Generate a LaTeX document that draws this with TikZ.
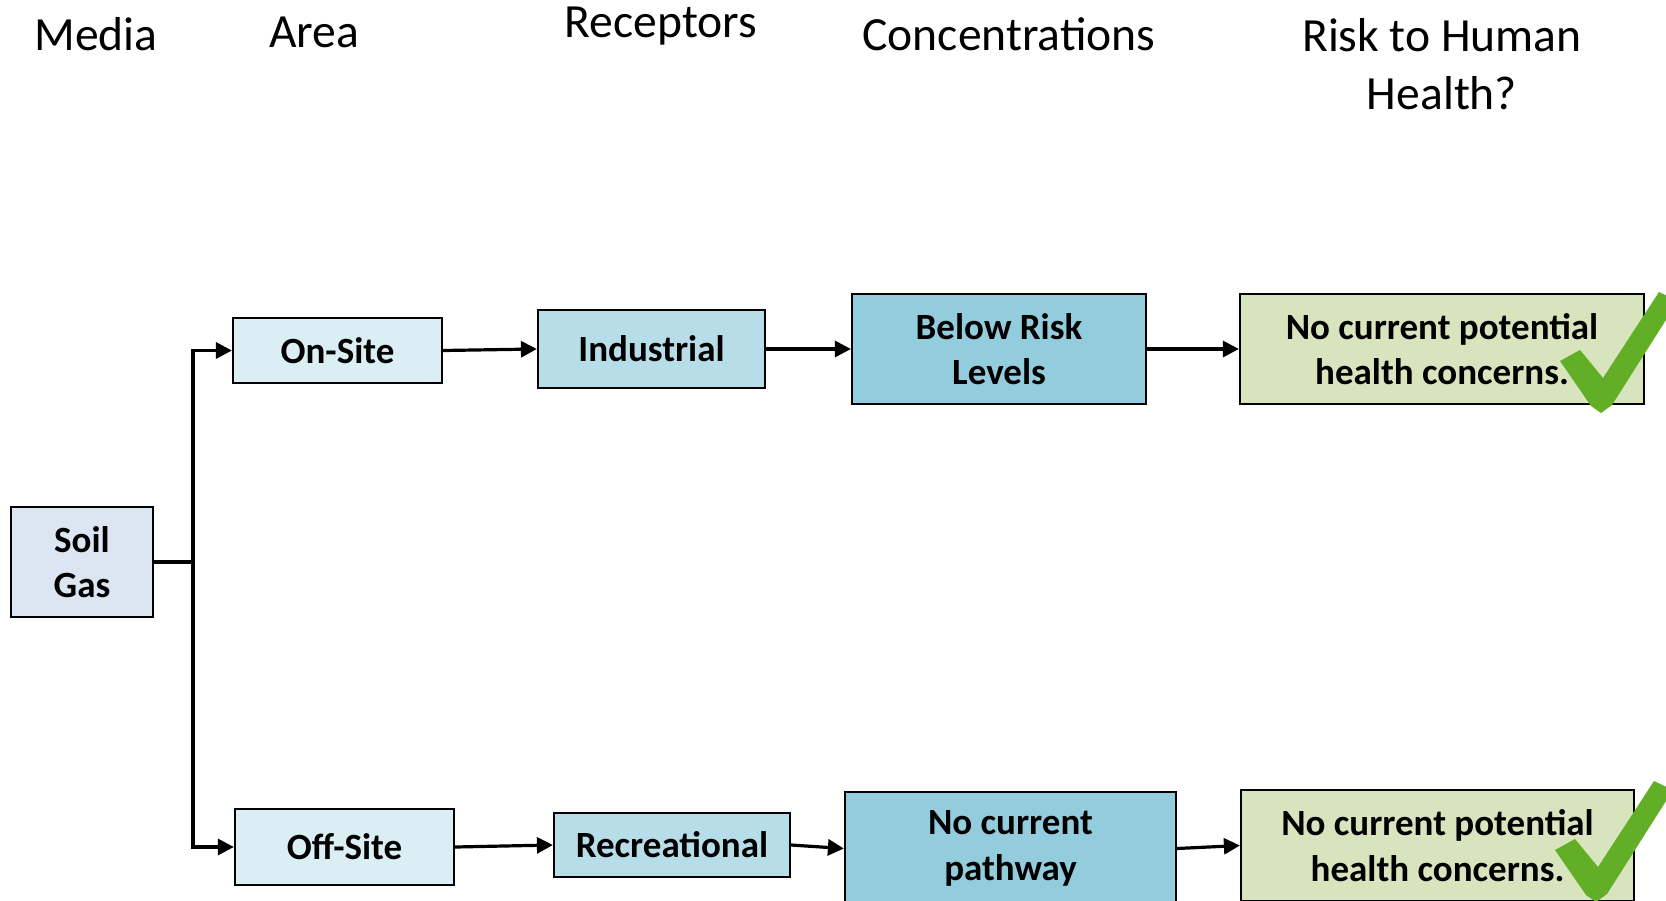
\documentclass[tikz,border=0pt]{standalone}
\usepackage{fontspec}
\setmainfont{Carlito}
\usetikzlibrary{arrows.meta}
\definecolor{soilfill}{HTML}{DCE6F2}
\definecolor{areafill}{HTML}{DAEEF3}
\definecolor{recfill}{HTML}{B7DEE8}
\definecolor{concfill}{HTML}{93CDDD}
\definecolor{riskfill}{HTML}{D7E4BD}
\definecolor{checkgreen}{RGB}{98,174,38}
\tikzset{
  box/.style={draw=black, line width=1.1pt, rectangle, align=center,
    font=\fontsize{18.5}{22.8}\selectfont\bfseries, inner sep=0pt},
  header/.style={align=center, font=\fontsize{23.8}{29}\selectfont, inner sep=0pt},
  conn/.style={line width=1.6pt, draw=black},
  arr/.style={conn, -{Triangle[length=8pt,width=8pt]}},
  chk/.pic={
    \fill[checkgreen] (1560,361) -- (1580,350) -- (1603,378) -- (1659,292)
      -- (1678,301) -- (1612,405) -- (1601,413) -- (1591,406) -- cycle;
  }
}
\begin{document}
\begin{tikzpicture}[x=0.5pt,y=-0.5pt]
\useasboundingbox (0,0) rectangle (1666,900);
% headers
\node[header] (hmedia) at (96,34) {Media};
\node[header] (harea) at (314,32) {Area};
\node[header] (hrec) at (661,26) {Receptors};
\node[header] (hconc) at (1009,34) {Concentrations};
\node[header] (hrisk) at (1442,64) {Risk to Human\\Health?};
% boxes
\node[box, fill=soilfill, minimum width=71pt, minimum height=55pt] (soil) at (82,562) {Soil\\Gas};
\node[box, fill=areafill, minimum width=104.5pt, minimum height=32.5pt] (onsite) at (337.5,350.5) {On-Site};
\node[box, fill=recfill, minimum width=113.5pt, minimum height=39pt] (industrial) at (651.5,349) {\raisebox{-2pt}{Industrial}};
\node[box, fill=concfill, minimum width=147pt, minimum height=55pt] (below) at (999,349) {Below Risk\\Levels};
\node[box, fill=riskfill, minimum width=202pt, minimum height=55pt] (riskA) at (1442,349) {No current potential\\health concerns.};
\node[box, fill=areafill, minimum width=109.5pt, minimum height=38pt] (offsite) at (344.5,847) {Off-Site};
\node[box, fill=recfill, minimum width=118pt, minimum height=32pt] (recreational) at (672,845) {Recreational};
\node[box, fill=concfill, minimum width=165.5pt, minimum height=56.5pt] (pathway) at (1010.5,848.5) {No current\\pathway};
\node[box, fill=riskfill, minimum width=196.5pt, minimum height=55.5pt] (riskB) at (1437.5,845.5) {No current potential\\health concerns.};
% check marks
\pic at (0,0) {chk};
\pic at (-5,489) {chk};
% connectors
\coordinate (trunk) at (193,562);
\draw[conn] (soil.east) -- (trunk);
\draw[arr] (trunk) |- (onsite.west);
\draw[arr] (trunk) |- (offsite.west);
\draw[arr] (onsite.east) -- (industrial.west);
\draw[arr] (industrial.east) -- (below.west);
\draw[arr] (below.east) -- (riskA.west);
\draw[arr] (offsite.east) -- (recreational.west);
\draw[arr] (recreational.east) -- (pathway.west);
\draw[arr] (pathway.east) -- (riskB.west);
\end{tikzpicture}
\end{document}
